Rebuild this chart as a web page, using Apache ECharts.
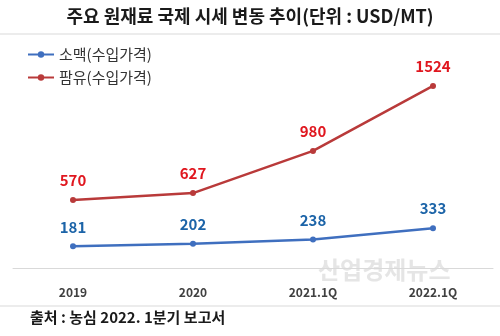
<!DOCTYPE html>
<html><head><meta charset="utf-8">
<script src="https://cdn.jsdelivr.net/npm/echarts@6/dist/echarts.min.js"></script>
<style>html,body{margin:0;padding:0;background:#fff}#c{width:500px;height:336px}</style>
</head><body><div id="c"></div>
<script>
const categories = ['2019', '2020', '2021.1Q', '2022.1Q'];
const wheatName = '소맥(수입가격)';
const palmName = '팜유(수입가격)';
const wheatValues = [181, 202, 238, 333];
const palmValues = [570, 627, 980, 1524];

const chart = echarts.init(document.getElementById('c'));
const font = '"Noto Sans CJK KR", "Noto Sans", sans-serif';
chart.setOption({
  backgroundColor: '#fff',
  animation: false,
  title: {
    text: '주요 원재료 국제 시세 변동 추이(단위 : USD/MT)',
    left: 'center', top: 2,
    textStyle: { fontFamily: font, fontSize: 18, fontWeight: 'bold', color: '#1a1a1a' }
  },
  legend: {
    orient: 'vertical', left: 22, top: 42, itemGap: 8,
    itemWidth: 26, itemHeight: 8,
    textStyle: { fontFamily: font, fontSize: 15, color: '#333' },
    data: [wheatName, palmName]
  },
  grid: { left: 13, right: 7, top: 29, bottom: 68 },
  xAxis: {
    type: 'category', data: categories, boundaryGap: true,
    axisLine: { lineStyle: { color: '#d9d9d9', width: 1 } },
    axisTick: { show: false },
    axisLabel: { fontFamily: font, fontSize: 12, fontWeight: 'bold', color: '#404040', margin: 18 }
  },
  yAxis: { type: 'value', min: 0, max: 2000, show: false, splitLine: { show: false } },
  series: [
    {
      name: wheatName, type: 'line', data: wheatValues,
      symbol: 'circle', symbolSize: 6,
      lineStyle: { color: '#3f6fbf', width: 2.5 },
      itemStyle: { color: '#3f6fbf' },
      label: { show: true, position: 'top', distance: 9, fontFamily: font, fontSize: 15, fontWeight: 'bold', color: '#1c64a8' }
    },
    {
      name: palmName, type: 'line', data: palmValues,
      symbol: 'circle', symbolSize: 6,
      lineStyle: { color: '#b93a3a', width: 2.5 },
      itemStyle: { color: '#b93a3a' },
      label: { show: true, position: 'top', distance: 9, fontFamily: font, fontSize: 15, fontWeight: 'bold', color: '#e0171f' }
    }
  ],
  graphic: [
    { type: 'line', shape: { x1: 0, y1: 34, x2: 500, y2: 34 }, style: { stroke: '#d9d9d9', lineWidth: 1 } },
    { type: 'line', shape: { x1: 0, y1: 306, x2: 500, y2: 306 }, style: { stroke: '#d9d9d9', lineWidth: 1 } },
    { type: 'text', left: 30, top: 310, style: { text: '출처 : 농심 2022. 1분기 보고서', font: 'bold 15px ' + font, fill: '#1a1a1a' } },
    { type: 'text', left: 318, top: 258, style: { text: '산업경제뉴스', font: 'bold 24px ' + font, fill: 'rgba(180,180,180,0.35)' } }
  ]
});
</script></body></html>
